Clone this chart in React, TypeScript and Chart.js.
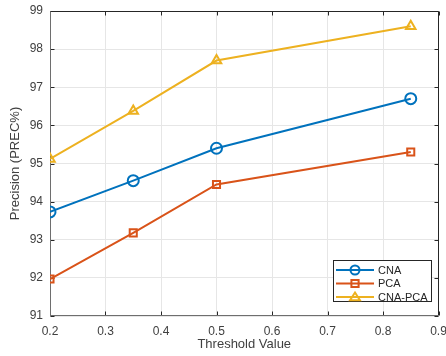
import React, { useEffect, useRef } from "react";
import { Chart, registerables } from "chart.js";

Chart.register(...registerables);

const thresholds = [0.2, 0.35, 0.5, 0.85];
const cnaValues = [93.73, 94.55, 95.4, 96.7];
const pcaValues = [91.97, 93.18, 94.45, 95.3];
const cnaPcaValues = [95.12, 96.38, 97.7, 98.6];
const seriesNames = ["CNA", "PCA", "CNA-PCA"];
const seriesColors = ["#0072BD", "#D95319", "#EDB120"];
const seriesMarkers = ["circle", "rect", "triangle"];
const xTicks = [0.2, 0.3, 0.4, 0.5, 0.6, 0.7, 0.8, 0.9];
const yTicks = [91, 92, 93, 94, 95, 96, 97, 98, 99];

const FONT = "'Liberation Sans', Arial, Helvetica, sans-serif";

function drawMarker(ctx: CanvasRenderingContext2D, style: string, x: number, y: number, r: number) {
  ctx.beginPath();
  if (style === "circle") {
    ctx.arc(x, y, r, 0, Math.PI * 2);
  } else if (style === "rect") {
    ctx.rect(x - r * 0.8, y - r * 0.8, r * 1.6, r * 1.6);
  } else {
    ctx.moveTo(x, y - r);
    ctx.lineTo(x + r * 1.1, y + r * 0.7);
    ctx.lineTo(x - r * 1.1, y + r * 0.7);
    ctx.closePath();
  }
  ctx.stroke();
}

const framePlugin = {
  id: "frame",
  beforeDatasetsDraw(chart: any) {
    const { ctx, chartArea } = chart;
    const xs = chart.scales.x;
    const ys = chart.scales.y;
    const L = Math.round(chartArea.left) + 0.5;
    const R = Math.round(chartArea.right) - 0.5;
    const T = Math.round(chartArea.top) + 0.5;
    const B = Math.round(chartArea.bottom) - 0.5;
    ctx.save();
    ctx.strokeStyle = "#262626";
    ctx.lineWidth = 1;
    const tl = 4;
    ctx.beginPath();
    for (const v of xTicks) {
      const px = Math.round(xs.getPixelForValue(v)) + 0.5;
      ctx.moveTo(px, B);
      ctx.lineTo(px, B - tl);
      ctx.moveTo(px, T);
      ctx.lineTo(px, T + tl);
    }
    for (const v of yTicks) {
      const py = Math.round(ys.getPixelForValue(v)) + 0.5;
      ctx.moveTo(L, py);
      ctx.lineTo(L + tl, py);
      ctx.moveTo(R, py);
      ctx.lineTo(R - tl, py);
    }
    ctx.stroke();
    ctx.strokeStyle = "#262626";
    ctx.beginPath();
    ctx.moveTo(L, T);
    ctx.lineTo(R, T);
    ctx.lineTo(R, B);
    ctx.stroke();
    ctx.strokeStyle = "#6e6e6e";
    ctx.beginPath();
    ctx.moveTo(L, T);
    ctx.lineTo(L, B);
    ctx.lineTo(R, B);
    ctx.stroke();
    ctx.restore();
  },
  afterDraw(chart: any) {
    const { ctx } = chart;
    ctx.save();
    const bx = 333.5, by = 260.5, bw = 98, bh = 41;
    ctx.fillStyle = "#ffffff";
    ctx.fillRect(bx, by, bw, bh);
    ctx.strokeStyle = "#262626";
    ctx.lineWidth = 1;
    ctx.strokeRect(bx, by, bw, bh);
    const rows = [270, 283.5, 297];
    ctx.font = `11px ${FONT}`;
    ctx.textBaseline = "middle";
    ctx.textAlign = "left";
    for (let i = 0; i < seriesNames.length; i++) {
      const y = rows[i];
      ctx.strokeStyle = seriesColors[i];
      ctx.lineWidth = 2;
      ctx.beginPath();
      ctx.moveTo(336, y);
      ctx.lineTo(374, y);
      ctx.stroke();
      drawMarker(ctx, seriesMarkers[i], 355, y, 4.5);
      ctx.fillStyle = "#262626";
      ctx.fillText(seriesNames[i], 378, y + 0.5);
    }
    ctx.restore();
  },
};

export default function App() {
  const ref = useRef<HTMLCanvasElement | null>(null);
  useEffect(() => {
    document.body.style.margin = "0";
    const canvas = ref.current!;
    const values = [cnaValues, pcaValues, cnaPcaValues];
    const chart = new Chart(canvas, {
      type: "line",
      data: {
        datasets: seriesNames.map((name, i) => ({
          label: name,
          data: thresholds.map((t, j) => ({ x: t, y: values[i][j] })),
          borderColor: seriesColors[i],
          backgroundColor: "rgba(0,0,0,0)",
          pointBackgroundColor: "rgba(0,0,0,0)",
          pointBorderColor: seriesColors[i],
          borderWidth: 2,
          pointBorderWidth: 2,
          pointStyle: seriesMarkers[i] as any,
          pointRadius: i === 1 ? 5 : 5.5,
          tension: 0,
        })),
      },
      options: {
        animation: false,
        responsive: false,
        maintainAspectRatio: false,
        layout: { padding: { left: 0, right: 4, top: 11, bottom: 0 } },
        plugins: { legend: { display: false }, tooltip: { enabled: false } },
        scales: {
          x: {
            type: "linear",
            min: 0.2,
            max: 0.9,
            afterFit(scale: any) {
              scale.height = 40;
              scale.paddingLeft = 0;
              scale.paddingRight = 0;
            },
            afterBuildTicks(scale: any) {
              scale.ticks = xTicks.map((v) => ({ value: v }));
            },
            ticks: {
              color: "#404040",
              font: { family: FONT, size: 12 },
              padding: 8,
              maxRotation: 0,
              autoSkip: false,
              callback: (v: any) => Number(v).toFixed(1),
            },
            grid: { color: "#e6e6e6", lineWidth: 1, drawTicks: false },
            border: { display: false },
            title: {
              display: true,
              text: "Threshold Value",
              color: "#404040",
              font: { family: FONT, size: 13 },
              padding: { top: 3, bottom: 4 },
            },
          },
          y: {
            type: "linear",
            min: 91,
            max: 99,
            afterFit(scale: any) {
              scale.width = 50;
              scale.paddingTop = 0;
              scale.paddingBottom = 0;
            },
            afterBuildTicks(scale: any) {
              scale.ticks = yTicks.map((v) => ({ value: v }));
            },
            ticks: {
              color: "#404040",
              font: { family: FONT, size: 12 },
              padding: 7,
              autoSkip: false,
            },
            grid: { color: "#e6e6e6", lineWidth: 1, drawTicks: false },
            border: { display: false },
            title: {
              display: true,
              text: "Precision (PREC%)",
              color: "#404040",
              font: { family: FONT, size: 13 },
              padding: { top: 8, bottom: 2 },
            },
          },
        },
      },
      plugins: [framePlugin],
    });
    return () => chart.destroy();
  }, []);
  return (
    <div style={{ width: 446, height: 356, position: "relative" }}>
      <canvas ref={ref} width={446} height={356} style={{ display: "block" }} />
    </div>
  );
}
